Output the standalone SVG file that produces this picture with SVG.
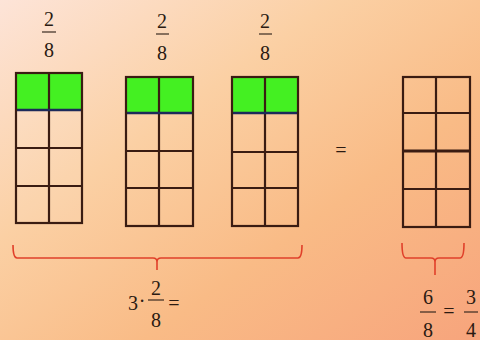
<svg xmlns="http://www.w3.org/2000/svg" width="480" height="340" viewBox="0 0 480 340">
<defs>
<linearGradient id="bg" x1="0" y1="0" x2="1" y2="1">
<stop offset="0" stop-color="#fde4d8"/>
<stop offset="0.35" stop-color="#fbd0a4"/>
<stop offset="0.65" stop-color="#f9bb86"/>
<stop offset="1" stop-color="#f7a47c"/>
</linearGradient>
<style>
.g{stroke:#3a1c12;stroke-width:2.2;fill:none}
.cell{fill:#ffffff;fill-opacity:0.08}
.green{fill:#44f022}
.sep{stroke:#1c2a5a;stroke-width:2.5}
.br{stroke:#e0402a;stroke-width:1.6;fill:none}
.t{font-family:"Liberation Serif","Times New Roman",serif;font-size:20px;fill:#2a1a12;text-anchor:middle}
.fl{stroke:#3a2a20;stroke-width:1.2}
</style>
</defs>
<rect width="480" height="340" fill="url(#bg)"/>
<g id="frac1">
<text class="t" x="49" y="26">2</text><line class="fl" x1="42" y1="32" x2="56" y2="32"/><text class="t" x="49" y="57">8</text>
</g>
<g id="frac2">
<text class="t" x="162" y="28">2</text><line class="fl" x1="156" y1="34" x2="169" y2="34"/><text class="t" x="162" y="60">8</text>
</g>
<g id="frac3">
<text class="t" x="265" y="28">2</text><line class="fl" x1="259" y1="34" x2="272" y2="34"/><text class="t" x="265" y="60">8</text>
</g>
<g id="bar1">
<rect class="cell" x="16" y="73" width="66" height="150"/>
<rect class="green" x="16" y="73" width="66" height="37"/>
<line class="g" x1="16" y1="148" x2="82" y2="148"/>
<line class="g" x1="16" y1="186" x2="82" y2="186"/>
<line class="g" x1="49" y1="73" x2="49" y2="223"/>
<line class="sep" x1="16" y1="110" x2="82" y2="110"/>
<rect class="g" x="16" y="73" width="66" height="150"/>
</g>
<g id="bar2">
<rect class="green" x="126" y="77" width="67" height="36"/>
<line class="g" x1="126" y1="151" x2="193" y2="151"/>
<line class="g" x1="126" y1="188" x2="193" y2="188"/>
<line class="g" x1="159" y1="77" x2="159" y2="226"/>
<line class="sep" x1="126" y1="113" x2="193" y2="113"/>
<rect class="g" x="126" y="77" width="67" height="149"/>
</g>
<g id="bar3">
<rect class="green" x="232" y="77" width="66" height="36"/>
<line class="g" x1="232" y1="152" x2="298" y2="152"/>
<line class="g" x1="232" y1="188" x2="298" y2="188"/>
<line class="g" x1="265" y1="77" x2="265" y2="226"/>
<line class="sep" x1="232" y1="113" x2="298" y2="113"/>
<rect class="g" x="232" y="77" width="66" height="149"/>
</g>
<g id="equals">
<text class="t" x="341" y="157">=</text>
</g>
<g id="bar4">
<line class="g" x1="403" y1="113" x2="470" y2="113"/>
<line class="g" x1="403" y1="151" x2="470" y2="151" style="stroke-width:2.8"/>
<line class="g" x1="403" y1="189" x2="470" y2="189"/>
<line class="g" x1="436" y1="77" x2="436" y2="227"/>
<rect class="g" x="403" y="77" width="67" height="150"/>
</g>
<g id="connectors">
<path class="br" d="M13,245 Q13,258 17,258 L153,258 Q157,258 157,262 L157,270 M157,262 Q157,258 161,258 L298,258 Q302,258 302,245"/>
<path class="br" d="M402,243 Q402,258 406,258 L431,258 Q435,258 435,262 L435,275 M435,262 Q435,258 439,258 L460,258 Q464,258 464,243"/>
</g>
<g id="expr1">
<text class="t" x="133" y="310">3</text><text class="t" x="142" y="308">·</text>
<text class="t" x="156" y="295">2</text><line class="fl" x1="148" y1="300" x2="164" y2="300"/><text class="t" x="156" y="327">8</text>
<text class="t" x="174" y="310">=</text>
</g>
<g id="expr2">
<text class="t" x="428" y="304">6</text><line class="fl" x1="420" y1="312" x2="436" y2="312"/><text class="t" x="428" y="337">8</text>
<text class="t" x="449" y="318">=</text>
<text class="t" x="471" y="304">3</text><line class="fl" x1="464" y1="312" x2="478" y2="312"/><text class="t" x="471" y="337">4</text>
</g>
</svg>
